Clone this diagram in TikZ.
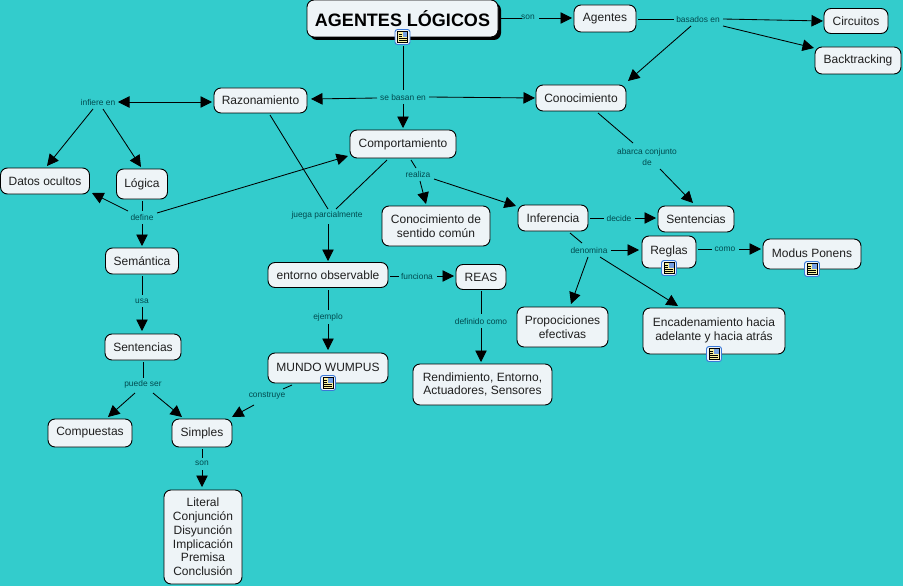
\documentclass[tikz,border=0pt]{standalone}
\usepackage{fontspec}
\setmainfont{Liberation Sans}
\usetikzlibrary{arrows.meta,shadows}
\definecolor{bgteal}{HTML}{33CCCC}
\definecolor{boxfill}{HTML}{EEF4F7}
\definecolor{labteal}{HTML}{004A4E}
\definecolor{iconblue}{HTML}{3A78D8}
\definecolor{iconpage}{HTML}{F8F0A0}
\tikzset{
  concept/.style={draw=black,line width=0.9pt,fill=boxfill,rounded corners=7pt,align=center,
    text=black!88,font=\fontsize{12}{13.8}\selectfont,inner sep=0pt,outer sep=0pt},
  titlebox/.style={concept,font=\fontsize{18}{22}\selectfont\bfseries,text=black,
    drop shadow={shadow xshift=3pt,shadow yshift=-3pt,fill=black,opacity=1}},
  linklabel/.style={text=labteal,font=\fontsize{8.4}{11.5}\selectfont,align=center,inner sep=0pt},
  cline/.style={line width=0.85pt,black},
  arr/.style={-{Triangle[length=11.5pt,width=11.5pt]}},
  biarr/.style={{Triangle[length=11.5pt,width=11.5pt]}-{Triangle[length=11.5pt,width=11.5pt]}},
  docicon/.pic={
    \draw[iconblue,line width=0.9pt,fill=boxfill,rounded corners=2.5pt] (-7.5,-7.5) rectangle (7.5,7.5);
    \fill[iconpage,draw=black,line width=0.7pt] (-5,-5.5) rectangle (5,5.5);
    \fill[iconblue!70!white] (0,-5) rectangle (4.6,0);
    \draw[black,line width=0.7pt] (-4,-3) -- (-1,-3) (-4,-1) -- (-1,-1) (-4,1) -- (4,1) (-4,3) -- (4,3);
  }
}
\newcommand\cnode[5]{\node[concept,minimum width=#4pt,minimum height=#5pt] (#1) at (#2) {#3};}
\newcommand\lnode[3]{\node[linklabel] (#1) at (#2) {#3};}
\newcommand\lk[5][arr]{\draw[cline,#1] ([shift={(#3)}]#2.center) -- ([shift={(#5)}]#4.center);}
\begin{document}
\begin{tikzpicture}[x=1pt,y=-1pt]
\useasboundingbox (0,0) rectangle (903,586);
\fill[bgteal] (0,0) rectangle (903,586);
% concepts
\node[titlebox,minimum width=191pt,minimum height=37pt] (ti) at (402.5,18.5) {AGENTES LÓGICOS};
\cnode{age}{605,18.5}{Agentes}{62}{27}
\cnode{cir}{856,21}{Circuitos}{64}{25}
\cnode{bac}{858,60.5}{Backtracking}{86}{27}
\cnode{con}{581,98}{Conocimiento}{90}{26}
\cnode{raz}{260.5,100.5}{Razonamiento}{93}{25}
\cnode{com}{403,144}{Comportamiento}{106}{28}
\cnode{dat}{45,181}{Datos ocultos}{89}{26}
\cnode{log}{142,184}{Lógica}{51}{30}
\cnode{sem}{142,261}{Semántica}{73}{26}
\cnode{ent}{328,275}{entorno observable}{120}{25}
\cnode{rea}{481,277}{REAS}{50}{25}
\cnode{cds}{436,226}{Conocimiento de\\sentido común}{108}{40}
\cnode{inf}{553,218}{Inferencia}{70}{26}
\cnode{sen}{696,219}{Sentencias}{76}{26}
\cnode{reg}{669,252}{\raisebox{4pt}{Reglas}}{54}{32}
\cnode{mod}{812,254}{\raisebox{2pt}{Modus Ponens}}{98}{30}
\cnode{enc}{714,331}{\raisebox{2.5pt}{\begin{tabular}{@{}c@{}}Encadenamiento hacia\\adelante y hacia atrás\end{tabular}}}{142}{46}
\cnode{pro}{562.5,327}{Propociciones\\efectivas}{91}{40}
\cnode{sel}{143,347}{Sentencias}{76}{26}
\cnode{mun}{328,368}{\raisebox{2pt}{MUNDO WUMPUS}}{120}{30}
\cnode{ren}{482.5,384.5}{Rendimiento, Entorno,\\Actuadores, Sensores}{139}{41}
\cnode{cmp}{90,433}{Compuestas}{84}{28}
\cnode{sim}{202,433}{Simples}{60}{28}
\cnode{lit}{203,537}{Literal\\Conjunción\\Disyunción\\Implicación\\Premisa\\Conclusión}{78}{94}
% link labels
\lnode{sonA}{528,17}{son}
\lnode{bas}{698,19}{basados en}
\lnode{seb}{403,97}{se basan en}
\lnode{ilb}{98,102}{infiere en}
\lnode{aba}{647,157}{abarca conjunto\\de}
\lnode{rlz}{418,174}{realiza}
\lnode{jue}{327,215}{juega parcialmente}
\lnode{def}{142,217}{define}
\lnode{dec}{619,218}{decide}
\lnode{den}{589,250}{denomina}
\lnode{cml}{725,249}{como}
\lnode{fun}{417,276}{funciona}
\lnode{usa}{142,301}{usa}
\lnode{eje}{328,317}{ejemplo}
\lnode{dcm}{481,321}{definido como}
\lnode{pue}{143,384}{puede ser}
\lnode{cns}{267,396}{construye}
\lnode{sonB}{202,463}{son}
% connectors
\lk[cline]{ti}{98.5,-.5}{sonA}{-6,1}
\lk{sonA}{11,1}{age}{-33,-.5}
\lk[cline]{age}{33,.5}{bas}{-24,0}
\lk{bas}{25,0}{cir}{-33,0}
\lk{bas}{25,7}{bac}{-44,-12.5}
\lk{bas}{-7,7}{con}{47,-17}
\lk[cline]{ti}{.5,27.5}{seb}{0,-7}
\lk{seb}{-26,1}{raz}{50.5,-1.5}
\lk{seb}{26,0}{con}{-46,0}
\lk{seb}{0,7}{com}{0,-16}
\lk[biarr]{ilb}{20,0}{raz}{-48.5,1.5}
\lk{ilb}{-5,7}{dat}{2,-15}
\lk{ilb}{5,7}{log}{-1,-17}
\lk[cline]{raz}{9.5,14.5}{jue}{1,-6}
\lk[cline]{com}{-16,16}{jue}{9,-6}
\lk{jue}{1,9}{ent}{0,-14}
\lk{def}{15,-4}{com}{-55,12}
\lk[cline]{com}{8,16}{rlz}{-2,-6}
\lk{rlz}{2,7}{cds}{-10,-22}
\lk{rlz}{16,5}{inf}{-37,-12}
\lk[cline]{log}{0,17}{def}{0,-6}
\lk{def}{-14,-6}{dat}{47,12}
\lk{def}{0,7}{sem}{0,-15}
\lk[cline]{con}{17,15}{aba}{-14,-14}
\lk{aba}{13,12}{sen}{-3,-16}
\lk[cline]{inf}{37,0}{dec}{-15,0}
\lk{dec}{16,0}{sen}{-40,-1}
\lk[cline]{inf}{17,15}{den}{-7,-7}
\lk{den}{22,0}{reg}{-30,-2}
\lk{den}{-1,7}{pro}{8.5,-23}
\lk{den}{11,7}{enc}{-36,-25}
\lk[cline]{reg}{29,-3}{cml}{-13,0}
\lk{cml}{14,0}{mod}{-51,-5}
\lk[cline]{ent}{62,1}{fun}{-18,0}
\lk{fun}{20,0}{rea}{-27,-1}
\lk[cline]{ent}{0,15}{eje}{0,-7}
\lk{eje}{0,7}{mun}{0,-18}
\lk[cline]{sem}{0,15}{usa}{0,-6}
\lk{usa}{0,6}{sel}{-1,-16}
\lk[cline]{sel}{0,15}{pue}{0,-6}
\lk{pue}{-8,9}{cmp}{18,-16}
\lk{pue}{10,9}{sim}{-20,-16}
\lk[cline]{mun}{-36,17}{cns}{16,-7}
\lk{cns}{-13,9}{sim}{30,-16}
\lk[cline]{sim}{0,16}{sonB}{0,-5}
\lk{sonB}{0,7}{lit}{-1,-50}
\lk[cline]{rea}{0,14}{dcm}{0,-7}
\lk{dcm}{0,7}{ren}{-1.5,-22.5}
% resource icons
\pic at (ti.south) {docicon};
\pic at (reg.south) {docicon};
\pic at (mod.south) {docicon};
\pic at (enc.south) {docicon};
\pic at (mun.south) {docicon};
\end{tikzpicture}
\end{document}
